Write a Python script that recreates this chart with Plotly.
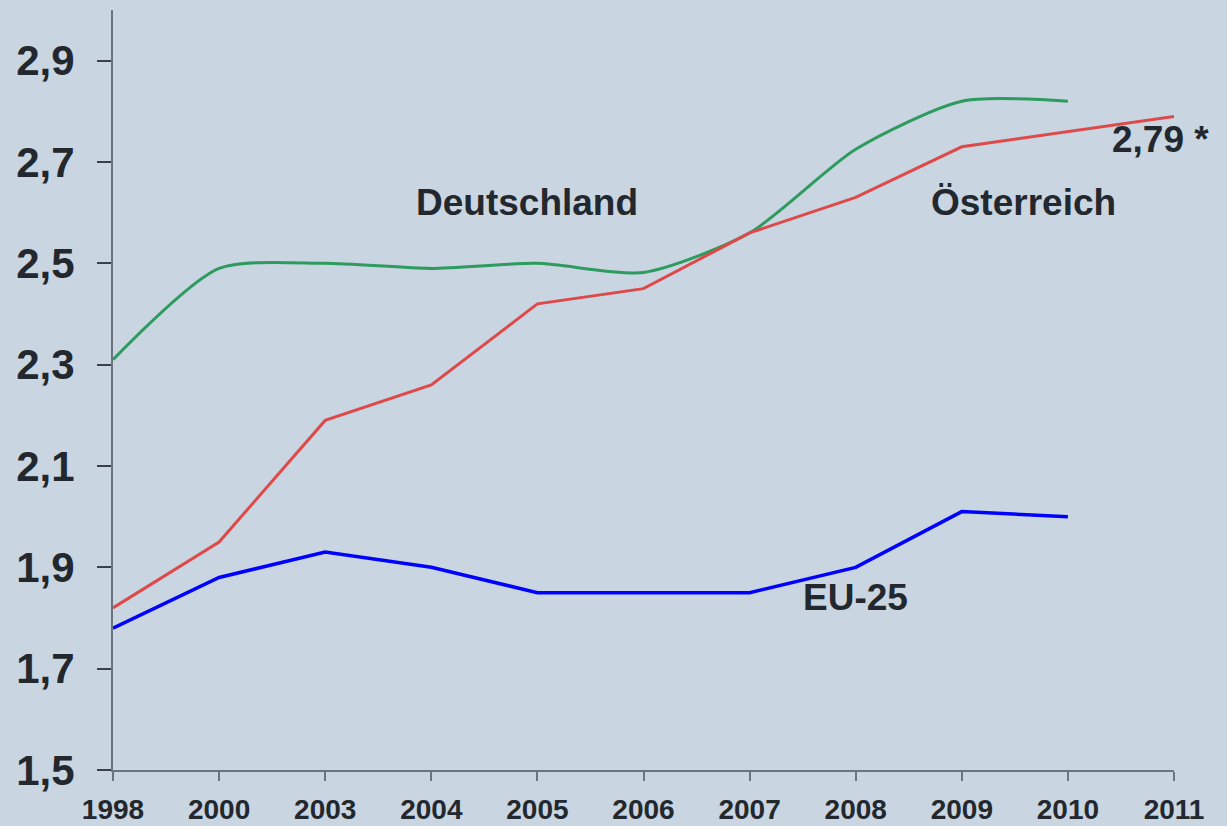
import plotly.graph_objects as go

years = ["1998", "2000", "2003", "2004", "2005", "2006", "2007", "2008", "2009", "2010", "2011"]
deutschland = [2.31, 2.49, 2.50, 2.49, 2.50, 2.482, 2.56, 2.725, 2.82, 2.82, None]
oesterreich = [1.82, 1.95, 2.19, 2.26, 2.42, 2.45, 2.56, 2.63, 2.73, 2.76, 2.79]
eu25 = [1.78, 1.88, 1.93, 1.90, 1.85, 1.85, 1.85, 1.90, 2.01, 2.00, None]

labels = ["Deutschland", "Österreich", "EU-25", "2,79 *"]

text_color = "#22282E"
bg = "#C9D5E1"
fam = "Liberation Sans, Arial, sans-serif"

fig = go.Figure()
fig.add_trace(go.Scatter(x=years, y=deutschland, mode="lines",
                         line=dict(color="#2E9B5E", width=3, shape="spline", smoothing=0.7),
                         name="Deutschland", connectgaps=False))
fig.add_trace(go.Scatter(x=years, y=oesterreich, mode="lines",
                         line=dict(color="#DE4A4A", width=3), name="Österreich"))
fig.add_trace(go.Scatter(x=years, y=eu25, mode="lines",
                         line=dict(color="#0000FF", width=3.5), name="EU-25"))

ann_font = dict(family=fam, size=37, color=text_color)
idx = {y: i for i, y in enumerate(years)}
fig.add_annotation(x=idx["2005"], y=2.62, text="<b>%s</b>" % labels[0], showarrow=False, font=ann_font, xshift=-10)
fig.add_annotation(x=idx["2009"], y=2.62, text="<b>%s</b>" % labels[1], showarrow=False, font=ann_font, xshift=62)
fig.add_annotation(x=idx["2008"], y=1.84, text="<b>%s</b>" % labels[2], showarrow=False, font=ann_font, xshift=0)
fig.add_annotation(x=idx["2011"], y=2.745, text="<b>%s</b>" % labels[3], showarrow=False, font=ann_font, xshift=-14)

fig.update_layout(
    width=1227, height=826,
    margin=dict(l=113, r=53, t=10, b=56),
    paper_bgcolor=bg, plot_bgcolor=bg,
    showlegend=False,
    separators=",.",
    font=dict(family=fam, color=text_color),
)
fig.update_xaxes(
    type="category", range=[0, 10], showgrid=False, zeroline=False, automargin=False,
    showline=True, linecolor="#6B7580", linewidth=2,
    ticks="outside", ticklen=9, tickcolor="#6B7580", tickwidth=1.5,
    tickfont=dict(size=28, color=text_color, family=fam, weight="bold"),
    ticklabelstandoff=4,
)
fig.update_yaxes(
    range=[1.5, 3.0], tickvals=[1.5, 1.7, 1.9, 2.1, 2.3, 2.5, 2.7, 2.9], tickformat=".1f",
    showgrid=False, zeroline=False, automargin=False,
    showline=True, linecolor="#6B7580", linewidth=2,
    ticks="outside", ticklen=14, tickcolor="#3A4048", tickwidth=1.5,
    tickfont=dict(size=42, color=text_color, family=fam, weight="bold"),
    ticklabelstandoff=14,
)

fig.write_html(
    "out.html",
    config={"displayModeBar": False},
    post_script="document.body.style.margin='0';document.body.style.overflow='hidden';"
                "document.body.style.background='#C9D5E1';",
)
